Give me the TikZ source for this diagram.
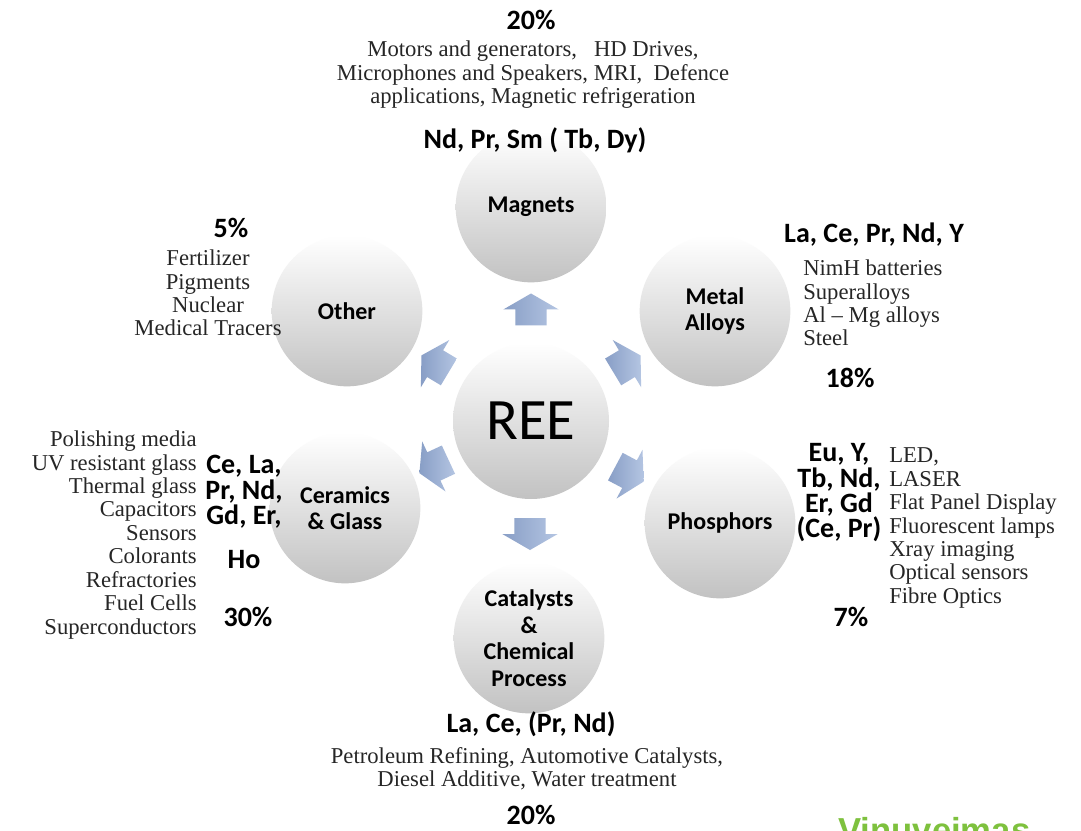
\documentclass[tikz,border=0pt]{standalone}
\usepackage{fontspec}
\setmainfont{Liberation Serif}
\newfontfamily\calfont{Carlito}
\usetikzlibrary{shapes.arrows,calc}

\definecolor{flowdark}{RGB}{136,158,198}
\definecolor{flowlight}{RGB}{180,197,226}
\definecolor{markgreen}{RGB}{126,193,62}

\tikzset{
  ball/.style={circle,minimum size=113pt,inner sep=0pt,align=center,
    top color=white,middle color=black!7,bottom color=black!24,
    font=\calfont\bfseries\fontsize{18}{20}\selectfont},
  flow/.style={single arrow,minimum height=24pt,inner xsep=0pt,inner ysep=11.5pt,
    single arrow head extend=9pt,single arrow tip angle=120,
    left color=flowdark,right color=flowlight},
  elem/.style={font=\calfont\bfseries\fontsize{21}{19}\selectfont,align=center,inner sep=0pt},
  uses/.style={font=\fontsize{17}{17.6}\selectfont,text=black!85,inner sep=0pt}
}

\begin{document}
\begin{tikzpicture}[x=0.75pt,y=0.75pt,yscale=-1,xscale=1]
        \clip (0,0) rectangle (1081,831);
        \fill[white] (0,0) rectangle (1081,831);

        \node [ball] (mag) at (531,207) {Magnets};
        \node [ball,minimum size=117pt,font=\calfont\fontsize{44}{44}\selectfont] (ree) at (531,421) {REE};
        \node [ball] (oth) at (347,311) {Other};
        \node [ball] (met) at (715,311) {Metal\\Alloys};
        \node [ball] (cer) at (345,508) {Ceramics\\\& Glass};
        \node [ball] (pho) at (720,523) {Phosphors};
        \node [ball] (cat) at (529,638) {Catalysts\\\&\\Chemical\\Process};

        \node [flow,rotate=90] (toMag) at ($(ree)!0.5!(mag)$) {};
        \node [flow,rotate=149] (toOth) at ($(ree)!0.5!(oth)$) {};
        \node [flow,rotate=31] (toMet) at ($(ree)!0.5!(met)$) {};
        \node [flow,rotate=205] (toCer) at ($(ree)!0.5!(cer)$) {};
        \node [flow,rotate=-28] (toPho) at ($(ree)!0.5!(pho)$) {};
        \node [flow,rotate=-90] (toCat) at ($(ree)!0.5!(cat)$) {};

        \node [elem] (magPct) at (531,20) {20\%};
        \node [uses,align=center] (magUses) at (533,75) {Motors and generators,~~ HD Drives,\\Microphones and Speakers, MRI,~ Defence\\applications, Magnetic refrigeration};
        \node [elem] (magElem) at (535,140) {Nd, Pr, Sm ( Tb, Dy)};

        \node [elem] (othPct) at (231,228) {5\%};
        \node [uses,align=center] (othUses) at (208,293) {Fertilizer\\Pigments\\Nuclear\\Medical Tracers};

        \node [elem] (metElem) at (874,235) {La, Ce, Pr, Nd, Y};
        \node [uses,align=left,anchor=west] (metUses) at (803,303) {NimH batteries\\Superalloys\\Al -- Mg alloys\\Steel};
        \node [elem] (metPct) at (850,378) {18\%};

        \node [uses,align=right,anchor=east] (cerUses) at (197,535) {Polishing media\\UV resistant glass\\Thermal glass\\Capacitors\\Sensors\\Colorants\\Refractories\\Fuel Cells\\Superconductors};
        \node [elem] (cerElem) at (244,512) {Ce, La,\\Pr, Nd,\\Gd, Er,\\[14pt]Ho};
        \node [elem] (cerPct) at (248,617) {30\%};

        \node [elem] (phoElem) at (839,493) {Eu, Y,\\Tb, Nd,\\Er, Gd\\(Ce, Pr)};
        \node [uses,align=left,anchor=west] (phoUses) at (889,528) {LED,\\LASER\\Flat Panel Display\\Fluorescent lamps\\Xray imaging\\Optical sensors\\Fibre Optics};
        \node [elem] (phoPct) at (851,617) {7\%};

        \node [elem] (catElem) at (531,724) {La, Ce, (Pr, Nd)};
        \node [uses,align=center] (catUses) at (527,769) {Petroleum Refining, Automotive Catalysts,\\Diesel Additive, Water treatment};
        \node [elem] (catPct) at (531,815) {20\%};

        \node [anchor=base west,inner sep=0pt,text=markgreen,font=\fontspec{Liberation Sans}\bfseries\fontsize{26}{26}\selectfont] (mark) at (838,842) {Vinuveimas};
\end{tikzpicture}
\end{document}
